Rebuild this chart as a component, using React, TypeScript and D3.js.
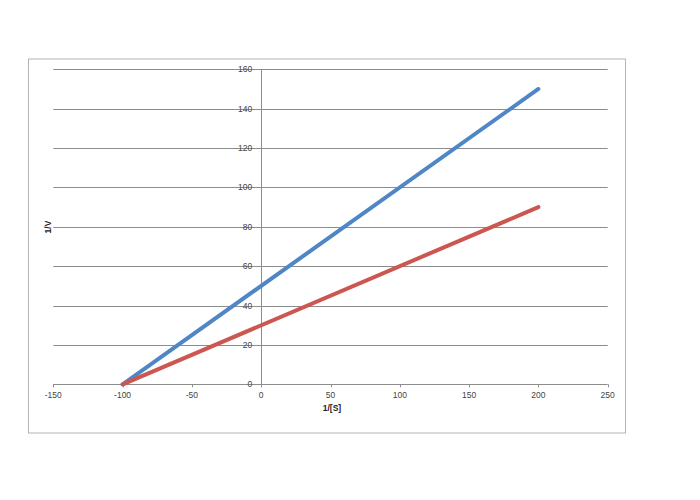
import React from "react";
import * as d3 from "d3";

const xTicks = [-150, -100, -50, 0, 50, 100, 150, 200, 250];
const yTicks = [0, 20, 40, 60, 80, 100, 120, 140, 160];
const seriesNames = ["Series1", "Series2"];
const seriesX = [[-100, 200], [-100, 200]];
const seriesY = [[0, 150], [0, 90]];
const colors = ["#4F86C6", "#CC5650"];

export default function App() {
  const W = 700, H = 500;
  const x = d3.scaleLinear().domain([-150, 250]).range([53.3, 607.7]);
  const y = d3.scaleLinear().domain([0, 160]).range([384.3, 69.3]);
  const line = d3.line<[number, number]>().x(d => x(d[0])).y(d => y(d[1]));
  const font = "'Liberation Sans', Arial, sans-serif";
  return (
    <svg width={W} height={H} style={{ position: "absolute", left: 0, top: 0 }}>
      <rect x={0} y={0} width={W} height={H} fill="#fff" />
      <rect x={28.5} y={59} width={597} height={374} fill="#fff" stroke="#b3b3b3" strokeWidth={1} />
      {yTicks.filter(t => t !== 0).map(t => (
        <line key={t} x1={x(-150)} x2={x(250)} y1={Math.round(y(t)) + 0.5} y2={Math.round(y(t)) + 0.5} stroke="#8c8c8c" strokeWidth={1} />
      ))}
      <line x1={Math.round(x(0)) + 0.5} x2={Math.round(x(0)) + 0.5} y1={y(160)} y2={y(0)} stroke="#8c8c8c" strokeWidth={1} />
      <line x1={x(-150)} x2={x(250)} y1={Math.round(y(0)) + 0.5} y2={Math.round(y(0)) + 0.5} stroke="#8c8c8c" strokeWidth={1} />
      {xTicks.map(t => (
        <line key={t} x1={Math.round(x(t)) + 0.5} x2={Math.round(x(t)) + 0.5} y1={y(0)} y2={y(0) + 3} stroke="#8c8c8c" strokeWidth={1} />
      ))}
      {yTicks.map(t => (
        <text key={t} x={x(0) - 9} y={y(t)} dy="0.35em" textAnchor="end" fontFamily={font} fontSize={8.5} fill="#444">{t}</text>
      ))}
      {xTicks.map(t => (
        <text key={t} x={x(t)} y={y(0) + 11} dy="0.35em" textAnchor="middle" fontFamily={font} fontSize={8.5} fill="#444">{t}</text>
      ))}
      {seriesNames.map((n, i) => (
        <path key={n} d={line(seriesX[i].map((v, j) => [v, seriesY[i][j]] as [number, number]))!} fill="none" stroke={colors[i]} strokeWidth={4} strokeLinecap="round" />
      ))}
      <text x={332} y={408} dy="0.35em" textAnchor="middle" fontFamily={font} fontSize={8.5} fontWeight="bold" fill="#222">1/[S]</text>
      <text transform={`translate(48,227) rotate(-90)`} dy="0.35em" textAnchor="middle" fontFamily={font} fontSize={8.5} fontWeight="bold" fill="#222">1/V</text>
    </svg>
  );
}
